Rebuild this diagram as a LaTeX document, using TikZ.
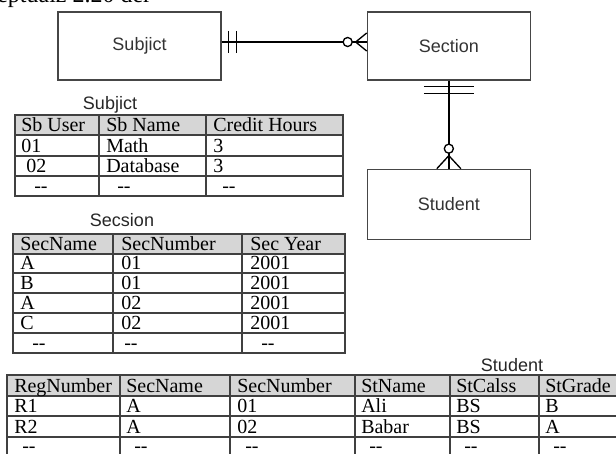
\documentclass[tikz,border=0pt]{standalone}
\usepackage{fontspec}
\setmainfont{Liberation Serif}
\setsansfont{Liberation Sans}
\usetikzlibrary{positioning,calc}
\definecolor{HeadGray}{RGB}{214,214,214}
\definecolor{EdgeGray}{RGB}{70,70,70}

\begin{document}
\begin{tikzpicture}[x=0.75pt, y=-0.75pt,
	entity/.style={draw=EdgeGray, line width=1pt, minimum width=122.25pt, minimum height=51pt,
		font=\sffamily\fontsize{13.5}{15}\selectfont, text=black!80},
	conn/.style={line width=1pt},
	tab/.style={draw=black!75, line width=1.1pt},
	cell/.style={anchor=base west, inner sep=0pt, font=\fontsize{15}{17}\selectfont},
	title/.style={font=\sffamily\fontsize{13.5}{15}\selectfont, text=black!85}]
	\useasboundingbox (0,0) rectangle (616,453);
	\clip (0,0) rectangle (616,453);
	
	% cut-off line of text above the figure
	\node[anchor=base west, inner sep=0pt, font=\fontsize{18}{20}\selectfont] (caption) at (-3,3) {eptualz 2.20 der};
	
	% entities
	\node[entity] (subj) at (139.5,46) {Subjict};
	\node[entity, right=108.75pt of subj] (sect) {Section};
	\node[entity, below=66pt of sect, minimum height=52.5pt] (stud) {Student};
	
	% Subjict -- Section
	\coordinate (a1) at ($(subj.east)+(0,-4)$);
	\coordinate (b1) at (sect.west |- a1);
	\draw[conn] (a1) -- (b1);
	\draw[conn] ($(a1)+(7,-11)$) -- ($(a1)+(7,11)$);
	\draw[conn] ($(a1)+(15,-11)$) -- ($(a1)+(15,11)$);
	\draw[conn] ($(b1)+(-11,0)$) -- ($(b1)+(0,-9)$);
	\draw[conn] ($(b1)+(-11,0)$) -- ($(b1)+(0,9)$);
	\draw[conn, fill=white] ($(b1)+(-19,0)$) circle (3.4pt);
	
	% Section -- Student
	\coordinate (a2) at (sect.south);
	\coordinate (b2) at (stud.north);
	\draw[conn] (a2) -- (b2);
	\draw[conn] ($(a2)+(-25,6)$) -- ($(a2)+(25,6)$);
	\draw[conn] ($(a2)+(-25,13)$) -- ($(a2)+(25,13)$);
	\draw[conn] ($(b2)+(0,-13)$) -- ($(b2)+(-12,0)$);
	\draw[conn] ($(b2)+(0,-13)$) -- ($(b2)+(12,0)$);
	\draw[conn, fill=white] ($(b2)+(0,-20)$) circle (3.4pt);
	
	% table Subjict
	\node[title] (t1) at (110,105) {Subjict};
	\fill[HeadGray] (15,115) rectangle (343,135);
	\draw[tab] (15,115) rectangle (343,196);
	\foreach \y in {135,156,176} \draw[tab] (15,\y) -- (343,\y);
	\foreach \x in {99,206} \draw[tab] (\x,115) -- (\x,196);
	\foreach \x/\y/\t [count=\i] in {21/131/Sb User, 106/131/Sb Name, 213/131/Credit Hours,
		21/152/01, 106/152/Math, 213/152/3,
		26/172/02, 106/172/Database, 213/172/3,
		34/192/-{}-, 117/192/-{}-, 222/192/-{}-}
		\node[cell] (sb\i) at (\x,\y) {\t};
	
	% table Secsion
	\node[title] (t2) at (122,220) {Secsion};
	\fill[HeadGray] (13,234) rectangle (345,254);
	\draw[tab] (13,234) rectangle (345,353);
	\foreach \y in {254,273,293,313,333} \draw[tab] (13,\y) -- (345,\y);
	\foreach \x in {113,242} \draw[tab] (\x,234) -- (\x,353);
	\foreach \x/\y/\t [count=\i] in {20/250/SecName, 121/250/SecNumber, 250/250/Sec Year,
		20/269/A, 121/269/01, 250/269/2001,
		20/289/B, 121/289/01, 250/289/2001,
		20/309/A, 121/309/02, 250/309/2001,
		20/329/C, 121/329/02, 250/329/2001,
		32/349/-{}-, 124/349/-{}-, 261/349/-{}-}
		\node[cell] (sc\i) at (\x,\y) {\t};
	
	% table Student
	\node[title] (t3) at (512,365) {Student};
	\fill[HeadGray] (7,375) rectangle (630,396);
	\draw[tab] (7,375) rectangle (630,460);
	\foreach \y in {396,416,437} \draw[tab] (7,\y) -- (630,\y);
	\foreach \x in {120,230,355,450,539} \draw[tab] (\x,375) -- (\x,460);
	\foreach \x/\y/\t [count=\i] in {14/392/RegNumber, 126/392/SecName, 237/392/SecNumber, 361/392/StName, 456/392/StCalss, 545/392/StGrade,
		14/412/R1, 126/412/A, 237/412/01, 361/412/Ali, 456/412/BS, 545/412/B,
		14/433/R2, 126/433/A, 237/433/02, 361/433/Babar, 456/433/BS, 545/433/A,
		22/452/-{}-, 134/452/-{}-, 245/452/-{}-, 369/452/-{}-, 464/452/-{}-, 553/452/-{}-}
		\node[cell] (st\i) at (\x,\y) {\t};
\end{tikzpicture}
\end{document}
